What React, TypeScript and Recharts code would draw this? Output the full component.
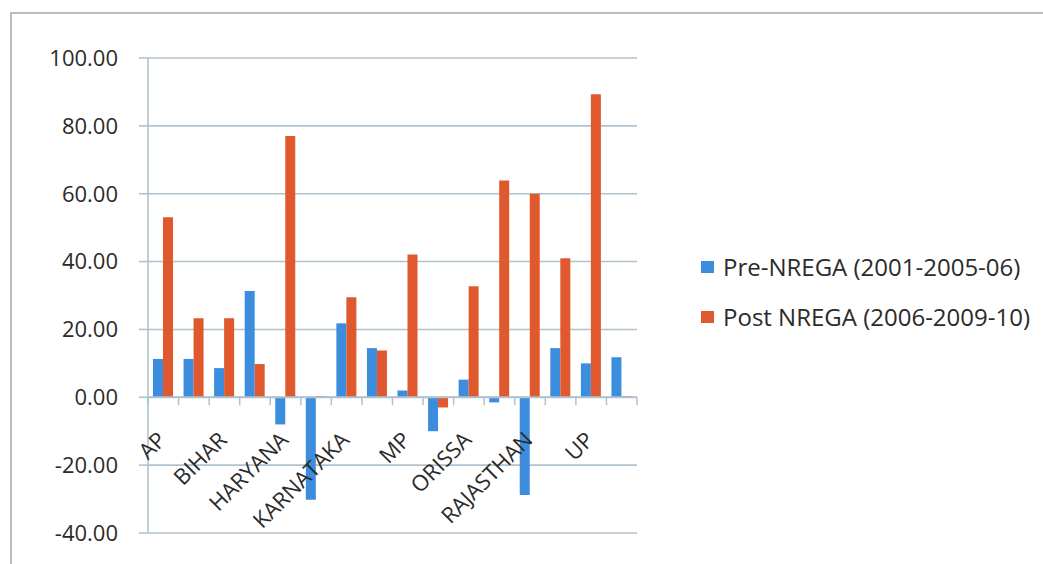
import React from "react";
import {
  BarChart,
  Bar,
  XAxis,
  YAxis,
  CartesianGrid,
  Legend,
  ReferenceLine,
} from "recharts";

// State-wise growth (%) before and after NREGA
const states = [
  "AP", "ASSAM", "BIHAR", "GUJARAT", "HARYANA", "JHARKHAND", "KARNATAKA", "KERALA",
  "MP", "MAHARASHTRA", "ORISSA", "PUNJAB", "RAJASTHAN", "TN", "UP", "WB",
];
const preNrega = [11.3, 11.3, 8.6, 31.3, -8, -30.2, 21.8, 14.5, 2, -10, 5.2, -1.5, -28.8, 14.5, 10, 11.8];
const postNrega = [53.1, 23.3, 23.3, 9.8, 77, 0.3, 29.5, 13.8, 42.1, -3, 32.7, 63.9, 60, 41, 89.3, 0.3];
const yTicks = [100, 80, 60, 40, 20, 0, -20, -40];

const preLabel = "Pre-NREGA (2001-2005-06)";
const postLabel = "Post NREGA (2006-2009-10)";

const data = states.map((s, i) => ({ state: s, pre: preNrega[i], post: postNrega[i] }));

const W = 1043;
const H = 564;
const Y_AXIS_W = 138;
const PLOT_LEFT = 148;
const PLOT_RIGHT = 637;
const PLOT_TOP = 58;
const PLOT_BOTTOM = 533;
const Y_MIN = -40;
const Y_MAX = 100;
const ZERO_Y = PLOT_TOP + ((Y_MAX - 0) / (Y_MAX - Y_MIN)) * (PLOT_BOTTOM - PLOT_TOP);
const BAND = (PLOT_RIGHT - PLOT_LEFT) / states.length;

const FONT = "'Open Sans', sans-serif";
const GRID = "#b1c2cf";
const BLUE = "#3c8ddd";
const ORANGE = "#e0582e";
const TEXT = "#2b2b2b";

// Category ticks sit on the zero line; every other state name is shown
const CategoryTick = (props: any) => {
  const { x, payload } = props;
  const index = props.index ?? payload?.index ?? 0;
  const lx = x + 4;
  const ly = ZERO_Y + 44;
  return (
    <g>
      {index === 0 && (
        <line x1={x - BAND / 2} x2={x - BAND / 2} y1={ZERO_Y} y2={ZERO_Y + 8} stroke={GRID} strokeWidth={1.5} />
      )}
      <line x1={x + BAND / 2} x2={x + BAND / 2} y1={ZERO_Y} y2={ZERO_Y + 8} stroke={GRID} strokeWidth={1.5} />
      {index % 2 === 0 && (
        <text
          x={lx}
          y={ly}
          textAnchor="end"
          transform={`rotate(-45 ${lx} ${ly})`}
          fontFamily={FONT}
          fontSize={22}
          fill={TEXT}
        >
          {payload.value}
        </text>
      )}
    </g>
  );
};

const renderLegend = () => {
  const items = [
    { label: preLabel, color: BLUE },
    { label: postLabel, color: ORANGE },
  ];
  return (
    <div style={{ fontFamily: FONT }}>
      {items.map((it) => (
        <div key={it.label} style={{ display: "flex", alignItems: "center", height: 50 }}>
          <span style={{ display: "inline-block", width: 13, height: 12, background: it.color, marginRight: 9 }} />
          <span style={{ fontSize: 24, color: TEXT, lineHeight: "24px", whiteSpace: "nowrap" }}>{it.label}</span>
        </div>
      ))}
    </div>
  );
};

export default function App() {
  return (
    <div style={{ position: "absolute", left: 0, top: 0, width: W, height: H, background: "#fff" }}>
      <div
        style={{
          position: "absolute",
          left: 10,
          top: 12,
          width: W - 10,
          height: H - 12,
          borderTop: "2px solid #b3bec6",
          borderLeft: "2px solid #b3bec6",
          boxSizing: "border-box",
        }}
      />
      <div style={{ position: "absolute", left: 0, top: 0 }}>
        <BarChart
          width={W}
          height={H}
          data={data}
          margin={{ top: PLOT_TOP, right: W - PLOT_RIGHT, bottom: 0, left: PLOT_LEFT - Y_AXIS_W }}
          barGap={0}
          barSize={10}
        >
          <CartesianGrid horizontal vertical={false} stroke={GRID} strokeWidth={1.6} />
          <XAxis
            dataKey="state"
            interval={0}
            axisLine={false}
            tickLine={false}
            height={H - PLOT_BOTTOM}
            tick={<CategoryTick />}
          />
          <YAxis
            width={Y_AXIS_W}
            domain={[Y_MIN, Y_MAX]}
            ticks={yTicks}
            allowDataOverflow
            tickFormatter={(v: number) => v.toFixed(2)}
            tick={{ fontFamily: FONT, fontSize: 22, fill: TEXT }}
            tickSize={9}
            tickMargin={21}
            axisLine={{ stroke: GRID, strokeWidth: 1.6 }}
            tickLine={{ stroke: GRID, strokeWidth: 1.6 }}
          />
          <ReferenceLine y={0} stroke={GRID} strokeWidth={2} />
          <Bar dataKey="pre" name={preLabel} fill={BLUE} isAnimationActive={false} />
          <Bar dataKey="post" name={postLabel} fill={ORANGE} isAnimationActive={false} />
          <Legend
            layout="horizontal"
            verticalAlign="middle"
            align="center"
            wrapperStyle={{ left: 701, top: 242, width: 340 }}
            content={renderLegend}
          />
        </BarChart>
      </div>
    </div>
  );
}
